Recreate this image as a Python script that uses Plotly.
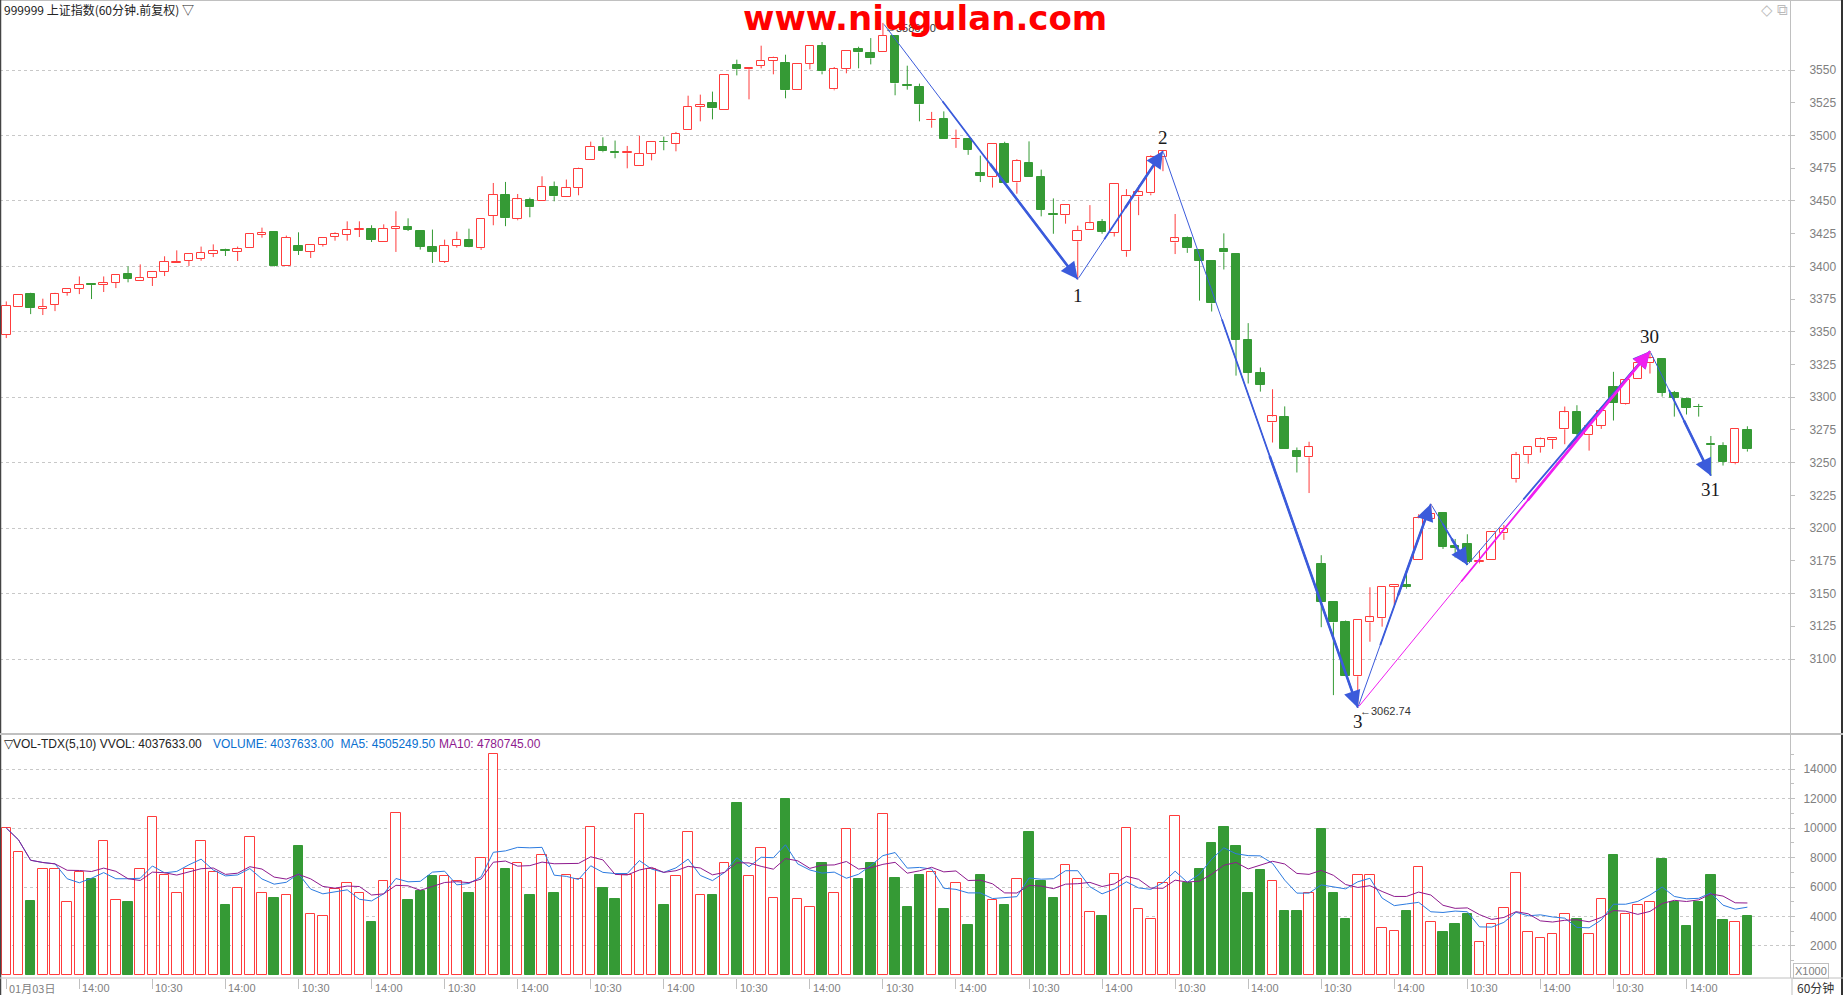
import plotly.graph_objects as go
import pandas as pd

# ---------------- data ----------------
opens = [3347.7,3369.1,3379.1,3367.6,3370.7,3379.8,3382.9,3386.2,3386.0,3387.5,
         3393.9,3389.0,3391.3,3395.9,3402.8,3404.3,3405.9,3409.7,3412.2,3411.2,
         3414.3,3424.2,3426.0,3400.3,3415.8,3411.2,3416.6,3422.7,3424.2,3428.1,
         3428.8,3418.9,3428.8,3430.4,3427.3,3415.1,3403.6,3415.8,3420.4,3413.9,
         3438.5,3454.6,3436.0,3450.8,3450.0,3460.9,3453.1,3459.9,3481.3,3491.2,
         3487.2,3486.4,3476.7,3485.9,3495.3,3493.5,3504.2,3521.8,3525.1,3519.5,
         3554.1,3550.5,3553.1,3556.9,3555.6,3534.5,3554.6,3568.6,3535.2,3550.8,
         3566.3,3563.0,3563.7,3576.0,3538.8,3537.3,3511.6,3512.8,3497.0,3497.0,
         3471.2,3467.9,3493.8,3464.1,3478.6,3467.9,3440.3,3439.1,3419.2,3427.5,
         3433.8,3425.8,3411.5,3453.4,3455.8,3483.4,3418.3,3421.6,3412.4,3404.1,
         3413.3,3409.7,3344.1,3318.3,3280.8,3284.7,3258.6,3254.1,3172.8,3143.7,
         3128.4,3086.8,3128.0,3131.1,3155.3,3156.3,3175.4,3207.3,3211.6,3186.1,
         3187.6,3173.9,3175.4,3196.0,3237.3,3255.7,3261.8,3267.4,3275.5,3288.5,
         3271.0,3278.3,3307.6,3295.2,3313.8,3326.0,3329.0,3303.1,3298.5,3292.9,
         3264.1,3262.5,3249.6,3275.0]
highs = [3373.2,3378.3,3379.8,3375.3,3379.8,3382.9,3392.3,3386.7,3392.3,3393.6,
         3400.0,3401.5,3395.9,3407.7,3412.2,3409.7,3415.1,3416.8,3413.5,3415.1,
         3425.0,3429.6,3426.8,3423.5,3426.0,3416.6,3421.9,3426.0,3434.4,3434.4,
         3431.4,3432.1,3442.1,3436.7,3427.3,3428.1,3420.4,3426.5,3428.8,3436.3,
         3463.7,3464.5,3455.3,3452.5,3468.8,3464.8,3466.3,3475.4,3495.3,3498.6,
         3496.1,3492.0,3499.9,3495.0,3499.1,3502.7,3530.4,3531.2,3533.5,3546.2,
         3557.9,3551.5,3568.6,3560.2,3561.7,3554.6,3568.3,3571.4,3552.3,3564.5,
         3567.8,3574.4,3586.0,3576.0,3553.3,3539.6,3518.0,3518.4,3504.5,3497.0,
         3484.6,3493.8,3495.2,3481.9,3495.5,3473.9,3451.9,3447.1,3431.1,3446.8,
         3436.2,3462.9,3459.0,3461.7,3484.9,3488.1,3440.0,3422.8,3412.4,3404.1,
         3425.2,3409.7,3356.6,3322.7,3306.1,3293.0,3261.6,3266.0,3179.3,3143.7,
         3129.4,3129.6,3154.8,3154.8,3156.3,3168.0,3210.6,3218.5,3211.6,3191.7,
         3195.3,3183.1,3196.8,3202.4,3258.2,3261.8,3269.2,3268.7,3292.9,3293.9,
         3279.4,3289.3,3319.4,3313.0,3330.6,3335.2,3329.0,3304.8,3299.7,3294.9,
         3270.4,3265.6,3275.5,3277.8]
lows = [3345.2,3369.1,3363.5,3362.8,3365.8,3377.6,3378.8,3375.0,3380.4,3383.4,
        3387.8,3389.0,3385.0,3392.6,3402.8,3400.3,3404.3,3407.1,3407.9,3404.1,
        3414.3,3421.9,3399.5,3400.3,3408.7,3406.4,3415.1,3419.6,3419.6,3422.4,
        3418.6,3418.9,3411.0,3427.0,3412.8,3402.6,3402.6,3414.3,3414.6,3412.6,
        3431.4,3430.7,3435.2,3437.5,3450.0,3449.7,3453.1,3454.3,3481.3,3487.2,
        3482.6,3474.9,3476.7,3481.0,3488.7,3487.9,3504.2,3510.8,3512.3,3519.5,
        3545.9,3527.6,3551.3,3546.7,3528.4,3534.5,3550.5,3546.7,3534.5,3547.5,
        3551.3,3554.3,3563.7,3530.7,3535.0,3510.8,3505.9,3497.3,3490.5,3485.2,
        3464.4,3460.2,3463.8,3455.5,3468.5,3438.2,3424.9,3432.6,3390.1,3427.5,
        3424.9,3422.8,3407.3,3439.1,3454.3,3472.7,3409.4,3410.3,3373.8,3365.5,
        3397.6,3316.5,3310.5,3304.3,3265.4,3260.4,3242.5,3226.8,3124.3,3072.4,
        3087.2,3062.74,3113.2,3124.7,3141.3,3153.8,3175.4,3207.3,3184.1,3177.5,
        3171.8,3173.1,3175.4,3191.0,3234.8,3249.3,3257.7,3260.5,3264.1,3271.0,
        3259.2,3275.8,3282.2,3294.4,3313.8,3318.1,3300.5,3285.2,3286.8,3285.2,
        3240.1,3247.8,3248.8,3258.5]
closes = [3369.9,3378.3,3368.1,3369.1,3379.1,3382.9,3386.0,3385.7,3387.5,3393.6,
          3390.3,3391.3,3395.9,3403.6,3403.6,3409.7,3410.5,3412.0,3411.7,3413.5,
          3425.0,3425.8,3400.0,3421.9,3412.0,3416.6,3421.9,3425.0,3428.1,3428.8,
          3420.2,3428.8,3430.4,3427.8,3414.8,3411.0,3415.8,3420.4,3414.8,3436.3,
          3454.6,3436.8,3451.3,3445.2,3460.7,3453.6,3459.9,3474.4,3491.2,3487.9,
          3486.4,3487.2,3485.9,3495.0,3494.8,3501.1,3521.8,3523.3,3520.7,3546.2,
          3550.5,3551.5,3556.9,3559.2,3534.5,3554.6,3568.3,3549.0,3550.8,3564.5,
          3563.5,3558.9,3576.0,3539.8,3537.8,3523.8,3512.2,3497.3,3497.6,3489.0,
          3469.4,3493.8,3463.8,3480.7,3468.5,3443.3,3439.1,3447.1,3427.2,3432.9,
          3426.4,3462.9,3453.7,3456.6,3483.4,3488.1,3421.3,3413.9,3404.4,3371.7,
          3410.6,3344.1,3318.9,3309.6,3285.3,3260.4,3254.7,3261.8,3143.7,3127.9,
          3087.2,3129.6,3131.8,3154.8,3156.3,3154.8,3207.5,3210.6,3185.6,3185.1,
          3173.9,3174.9,3196.8,3199.1,3255.7,3261.8,3267.9,3268.7,3288.5,3272.2,
          3278.1,3289.3,3295.9,3313.0,3326.0,3329.6,3303.6,3299.7,3292.1,3292.4,
          3263.3,3250.8,3275.5,3260.3]
# volume in thousands
volumes = [10000,8400,5040,7200,7200,4960,7040,6560,9120,5120,
           4960,7200,10720,6800,5600,7200,9120,7040,4800,5920,
           9360,5600,5280,5440,8800,4160,4000,5840,6240,5600,
           3600,6400,11040,5120,5760,6720,6720,6400,5600,8000,
           15040,7200,7600,5440,8160,5600,6800,6560,10080,5920,
           5200,6800,10960,7200,4800,6720,9760,5440,5440,7600,
           11680,6720,8640,5280,12000,5200,4640,7600,5600,9920,
           6560,7600,10960,6640,4640,6800,7040,4480,6240,3440,
           6800,5120,4800,6560,9760,6400,5280,7520,6560,4320,
           4000,6880,10000,4480,3840,6240,10800,6240,7200,8960,
           10080,8800,5600,7120,6400,4400,4400,5600,9920,5600,
           3840,6800,6800,3200,3040,4400,7360,3600,2960,3520,
           4160,2240,3520,4560,6960,2960,2560,2800,4160,3840,
           2800,5200,8160,4160,4800,4960,7920,4960,3360,4960,
           6800,3760,3600,4037.633]
tick_idx = list(range(0, 144, 6))
tick_text = ["01月03日"] + ["14:00" if i % 2 == 1 else "10:30" for i in range(1, len(tick_idx))]
price_ticks = list(range(3100, 3551, 25))
vol_ticks = list(range(2000, 14001, 2000))
pivot_idx = [72, 88, 95, 111, 117, 120, 135, 140]
pivot_kind = ["H", "L", "H", "L", "H", "L", "H", "L"]
pivot_labels = {88: "1", 95: "2", 111: "3", 135: "30", 140: "31"}
magenta_leg = (111, 135)

# ---------------- styling ----------------
W, H = 1843, 995
RED = "#ff3c3c"
GREEN = "#359a35"
GREY = "#808080"
AX = "#c0c0c0"
BLUE = "#3b5bdb"
MAG = "#f01ef0"

def py(y):
    return (H - y) / H

n = len(opens)
xs = list(range(n))
up = [closes[i] >= opens[i] for i in range(n)]

fig = go.Figure()

# wicks
for flag, col in ((True, RED), (False, GREEN)):
    wx, wy = [], []
    for i in range(n):
        if up[i] != flag:
            continue
        top = max(opens[i], closes[i]); bot = min(opens[i], closes[i])
        wx += [i, i, None, i, i, None]
        wy += [highs[i], top, None, bot, lows[i], None]
    fig.add_trace(go.Scatter(x=wx, y=wy, mode="lines", line=dict(color=col, width=1),
                             xaxis="x2", yaxis="y2", hoverinfo="skip", showlegend=False))

# bodies
for flag, fill, col in ((True, "white", RED), (False, GREEN, GREEN)):
    bx = [i for i in range(n) if up[i] == flag]
    base = [min(opens[i], closes[i]) for i in bx]
    hgt = [max(abs(closes[i] - opens[i]), 0.35) for i in bx]
    fig.add_trace(go.Bar(x=bx, y=hgt, base=base, width=0.7,
                         marker=dict(color=fill, line=dict(color=col, width=1)),
                         xaxis="x2", yaxis="y2", hoverinfo="skip", showlegend=False))

# volume bars
for flag, fill, col in ((True, "white", RED), (False, GREEN, GREEN)):
    bx = [i for i in range(n) if up[i] == flag]
    fig.add_trace(go.Bar(x=bx, y=[volumes[i] for i in bx], width=0.78,
                         marker=dict(color=fill, line=dict(color=col, width=1)),
                         xaxis="x", yaxis="y", hoverinfo="skip", showlegend=False))

vs = pd.Series(volumes)
ma5 = vs.rolling(5, min_periods=1).mean()
ma10 = vs.rolling(10, min_periods=1).mean()
fig.add_trace(go.Scatter(x=xs, y=ma5, mode="lines", line=dict(color="#2c7be0", width=1),
                         xaxis="x", yaxis="y", hoverinfo="skip", showlegend=False))
fig.add_trace(go.Scatter(x=xs, y=ma10, mode="lines", line=dict(color="#8e1a8e", width=1),
                         xaxis="x", yaxis="y", hoverinfo="skip", showlegend=False))

annotations = []

def pivot_price(k, kind):
    return highs[k] if kind == "H" else lows[k]

def taper(x0, y0, x1, y1, color, thin_frac=0.3):
    steps = [(0.0, 1.0, 0), (thin_frac, 1.8, 0), (thin_frac + (1 - thin_frac) * 0.35, 2.6, 2)]
    for f, w, head in steps:
        annotations.append(dict(
            x=x1, y=y1, ax=x0 + f * (x1 - x0), ay=y0 + f * (y1 - y0),
            xref="x2", yref="y2", axref="x2", ayref="y2", text="",
            showarrow=True, arrowhead=head, arrowsize=1.3 if head else 1,
            arrowwidth=w, arrowcolor=color, standoff=0, startstandoff=0))

# extreme labels (drawn beneath the watermark)
kmin = lows.index(min(lows)); kmax = highs.index(max(highs))
annotations.append(dict(x=kmin, y=lows[kmin], xref="x2", yref="y2", xanchor="left", yanchor="middle",
                        text="←%.2f" % lows[kmin], showarrow=False, yshift=-3,
                        font=dict(family="Liberation Sans", size=11, color="#333")))
annotations.append(dict(x=kmax, y=highs[kmax], xref="x2", yref="y2", xanchor="left", yanchor="middle",
                        text="←%.2f" % highs[kmax], showarrow=False, yshift=-5,
                        font=dict(family="Liberation Sans", size=11, color="#333")))

pts = [(k, pivot_price(k, t)) for k, t in zip(pivot_idx, pivot_kind)]
for (k0, p0), (k1, p1) in zip(pts[:-1], pts[1:]):
    taper(k0, p0, k1, p1, BLUE)
m0, m1 = magenta_leg
taper(m0, lows[m0], m1, highs[m1], MAG, thin_frac=0.35)

label_shift = {88: -16, 95: 14, 111: -14, 135: 15, 140: -14}
for k, t in zip(pivot_idx, pivot_kind):
    if k in pivot_labels:
        annotations.append(dict(x=k, y=pivot_price(k, t), xref="x2", yref="y2",
                                text=pivot_labels[k], showarrow=False, yanchor="middle",
                                yshift=label_shift[k],
                                font=dict(family="Liberation Serif", size=19, color="#1a1a1a")))

# watermark
annotations.append(dict(x=925 / W, y=py(18), xref="paper", yref="paper",
                        xanchor="center", yanchor="middle",
                        text="<b>www.niugulan.com</b>", showarrow=False,
                        font=dict(family="DejaVu Sans", size=34, color="#ff0000")))

# headers
def ptext(x, y, text, size, color, family="Liberation Sans", xanchor="left", **kw):
    annotations.append(dict(x=x / W, y=py(y), xref="paper", yref="paper", xanchor=xanchor,
                            yanchor="middle", text=text, showarrow=False,
                            font=dict(family=family, size=size, color=color), **kw))

ptext(2, 9, "999999 上证指数(60分钟.前复权) ▽", 12, "#222", family="Noto Sans CJK SC")
ptext(1759, 10, "◇ ⧉", 15, "#bbbbbb", family="DejaVu Sans")
ptext(2, 744, "▽VOL-TDX(5,10) VVOL: 4037633.00", 12, "#222")
ptext(211, 744, "VOLUME: 4037633.00  MA5: 4505249.50", 12, "#0a6fd0")
ptext(437, 744, "MA10: 4780745.00", 12, "#8e1a8e")
ptext(1811, 971, "X1000", 11, GREY, xanchor="center", bordercolor=AX, borderwidth=1, borderpad=1)
ptext(1815, 987, "60分钟", 12, "#333", family="Noto Sans CJK SC", xanchor="center")

# x tick labels (left aligned at tick)
for k, t in zip(tick_idx, tick_text):
    annotations.append(dict(x=k, y=py(988), xref="x", yref="paper", xanchor="left",
                            yanchor="middle", xshift=1, text=t, showarrow=False,
                            font=dict(family="Noto Sans CJK SC" if "月" in t else "Liberation Sans",
                                      size=11, color=GREY)))

shapes = [
    dict(type="line", xref="paper", yref="paper", x0=0, x1=1, y0=py(0.5), y1=py(0.5),
         line=dict(color=AX, width=1)),
    dict(type="line", xref="paper", yref="paper", x0=0.5 / W, x1=0.5 / W, y0=0, y1=1,
         line=dict(color="#444", width=1.5)),
    dict(type="line", xref="paper", yref="paper", x0=1842 / W, x1=1842 / W, y0=0, y1=1,
         line=dict(color="#333", width=2)),
    dict(type="line", xref="paper", yref="paper", x0=0, x1=1, y0=py(734), y1=py(734),
         line=dict(color=AX, width=2)),
    dict(type="line", xref="paper", yref="paper", x0=0, x1=1, y0=py(978), y1=py(978),
         line=dict(color=AX, width=1)),
    dict(type="line", xref="paper", yref="paper", x0=1792 / W, x1=1792 / W, y0=0, y1=py(978),
         line=dict(color=AX, width=1)),
]

XR = [-0.517, 146.5]
fig.update_layout(
    width=W, height=H, margin=dict(l=0, r=0, t=0, b=0, autoexpand=False),
    paper_bgcolor="white", plot_bgcolor="white", barmode="overlay", bargap=0,
    showlegend=False, annotations=annotations, shapes=shapes,
    xaxis=dict(domain=[0, 1790 / W], range=XR, anchor="y", showgrid=False, zeroline=False,
               tickvals=tick_idx, showticklabels=False, ticks="outside", ticklen=10,
               tickcolor=AX, showline=False),
    xaxis2=dict(domain=[0, 1790 / W], range=XR, anchor="y2", matches="x", visible=False),
    yaxis=dict(domain=[py(978), py(734)], range=[-170, 16373], side="right", anchor="x",
               tickvals=vol_ticks, ticktext=[("\u2007" if v < 10000 else "") + str(v) for v in vol_ticks],
               showgrid=True, gridcolor="#c8c8c8", griddash="dot", zeroline=False,
               ticks="outside", ticklen=4, tickcolor=AX, showline=True, linecolor=AX,
               tickfont=dict(family="Liberation Sans", size=12, color=GREY),
               ticklabelstandoff=6,
               minor=dict(tickvals=list(range(1000, 16000, 2000)), ticks="outside", ticklen=3,
                          tickcolor=AX, showgrid=False)),
    yaxis2=dict(domain=[py(734), 1], range=[3042.7, 3603.5], side="right", anchor="x2",
                tickvals=price_ticks, showgrid=False, zeroline=False,
                ticks="outside", ticklen=4, tickcolor=AX, showline=True, linecolor=AX,
                tickfont=dict(family="Liberation Sans", size=12, color=GREY),
                ticklabelstandoff=12,
                minor=dict(tickvals=list(range(3100, 3551, 50)), showgrid=True,
                           gridcolor="#c8c8c8", griddash="dot", ticks="")),
)

fig.write_html("out.html", config={"displayModeBar": False},
               post_script="document.body.style.margin='0px';document.body.style.overflow='hidden';")
